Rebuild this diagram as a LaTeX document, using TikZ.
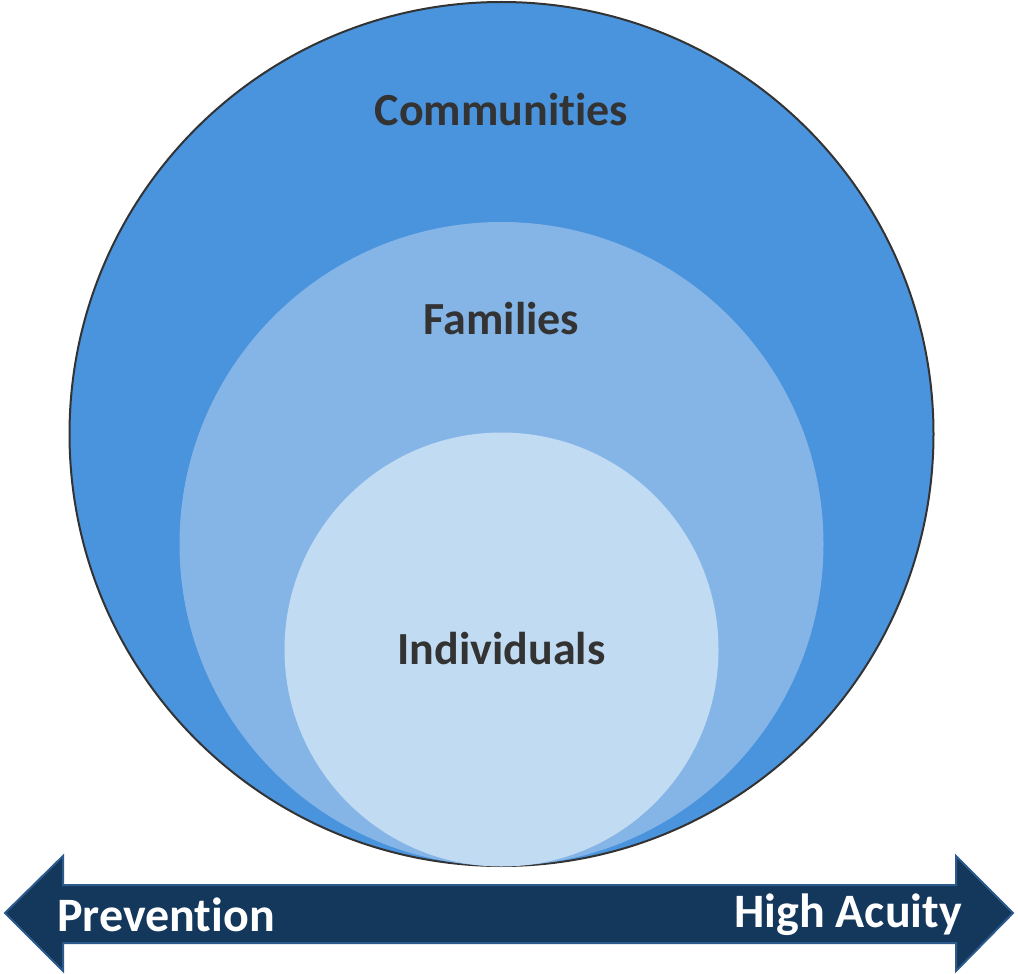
\documentclass[tikz,border=0pt]{standalone}
\usepackage{fontspec}
\setmainfont{Carlito}[RawFeature={-liga;-clig;-calt;-dlig}]
\usetikzlibrary{positioning}
\definecolor{outerblue}{HTML}{4A93DD}
\definecolor{midblue}{HTML}{85B5E7}
\definecolor{innerblue}{HTML}{C1DBF3}
\definecolor{navy}{HTML}{14375C}
\definecolor{navyedge}{HTML}{2C5A8C}
\definecolor{labelgray}{HTML}{333333}
\tikzset{
  ring/.style={circle,inner sep=0pt},
  ringlabel/.style={font=\fontsize{23}{27}\selectfont\bfseries,text=labelgray},
  arrowlabel/.style={font=\fontsize{24}{28}\selectfont\bfseries,text=white}
}

\begin{document}
\begin{tikzpicture}[x=0.5pt,y=-0.5pt]
\useasboundingbox (0,0) rectangle (1018,974);
% nested circles, all touching at the bottom
\node[ring,fill=outerblue,draw=labelgray,line width=1pt,minimum size=432pt] (outer) at (501.5,434) {};
\node[ring,fill=midblue,minimum size=322pt] (middle) at (501.5,544) {};
\node[ring,fill=innerblue,minimum size=217pt] (inner) at (501.5,649.5) {};
\node[ringlabel] (communities) at (501.5,110) {Communit\kern0pt ies};
\node[ringlabel] (families) at (501.5,319) {Families};
\node[ringlabel] (individuals) at (501.5,649) {Individuals};
% double arrow
\filldraw[fill=navy,draw=navyedge,line width=1pt,line join=miter]
  (5,913) -- (63,856) -- (63,885) -- (956,885) -- (956,856) -- (1013,913)
  -- (956,971) -- (956,943) -- (63,943) -- (63,971) -- cycle;
\node[arrowlabel,anchor=west] (prevention) at (50,915) {Prevention};
\node[arrowlabel,anchor=east] (acuity) at (969,915) {High Acuity};
\end{tikzpicture}
\end{document}
